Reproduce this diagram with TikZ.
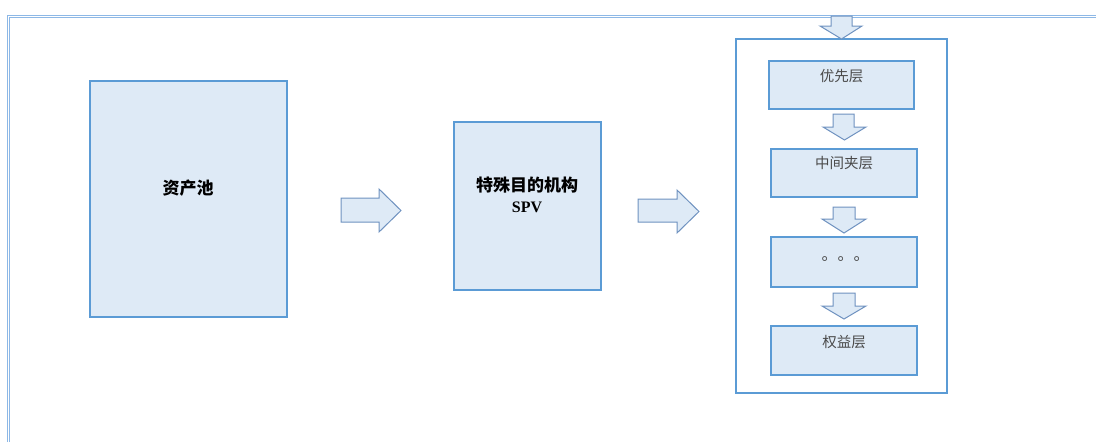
\documentclass[tikz,border=0pt]{standalone}
\usepackage{fontspec}
\setmainfont{Liberation Serif}
\newfontfamily\cjk{Noto Sans CJK SC}
\definecolor{boxline}{HTML}{5B9BD5}
\definecolor{boxfill}{HTML}{DEEAF6}
\definecolor{arrline}{HTML}{6F92C0}
\definecolor{frameline}{HTML}{8DB8E6}
\definecolor{txtgray}{HTML}{4A4A4A}
\tikzset{
  boxnode/.style={draw=boxline, fill=boxfill, line width=2pt, rectangle, inner sep=0pt},
  outerbox/.style={draw=boxline, fill=white, line width=2pt, rectangle, inner sep=0pt},
  blockarrow/.style={draw=arrline, fill=boxfill, line width=1pt, line join=miter},
  bigtext/.style={font=\cjk\bfseries\fontsize{17}{20}\selectfont, text=black, inner sep=0pt},
  smalltext/.style={font=\cjk\fontsize{14.5}{17}\selectfont, text=txtgray, inner sep=0pt},
  framestyle/.style={draw=frameline, line width=1pt}
}
\begin{document}
\begin{tikzpicture}[x=1pt,y=-1pt]
\useasboundingbox (0,0) rectangle (1096,442);
% outer frame (double line)
\draw[framestyle] (7,442) -- (7,15) -- (1096,15);
\draw[framestyle] (9,442) -- (9,17) -- (1096,17);

% left box
\node[boxnode, minimum width=197pt, minimum height=236pt] (pool) at (188.5,199) {};
\node[bigtext] (pooltxt) at (188,188) {资产池};

% SPV box
\node[boxnode, minimum width=147pt, minimum height=168pt] (spv) at (527.5,206) {};
\node[bigtext] (spvtxt) at (527,185) {特殊目的机构};
\node[font=\bfseries\fontsize{16}{18}\selectfont, inner sep=0pt] (spvname) at (527,207.5) {SPV};

% right arrows
\draw[blockarrow] (341,198) -- (379,198) -- (379,189) -- (401,210.5) -- (379,232) -- (379,222) -- (341,222) -- cycle;
\draw[blockarrow] (638,199) -- (677,199) -- (677,190) -- (699,211.5) -- (677,233) -- (677,222) -- (638,222) -- cycle;

% tranche container
\node[outerbox, minimum width=211pt, minimum height=354pt] (tranches) at (841.5,216) {};

% top down arrow
\draw[blockarrow] (831,16) -- (852,16) -- (852,26) -- (862,26) -- (841.5,39) -- (820,26) -- (831,26) -- cycle;

% tranche boxes
\node[boxnode, minimum width=145pt, minimum height=48pt] (senior) at (841.5,85) {};
\node[smalltext] (seniortxt) at (841.5,76) {优先层};
\node[boxnode, minimum width=146pt, minimum height=48pt] (mezz) at (844,173) {};
\node[smalltext] (mezztxt) at (844,163) {中间夹层};
\node[boxnode, minimum width=146pt, minimum height=50pt] (more) at (844,262) {};
\node[smalltext, font=\cjk\fontsize{16}{18}\selectfont] (moretxt) at (845.5,259) {。。。};
\node[boxnode, minimum width=146pt, minimum height=49pt] (equity) at (844,350.5) {};
\node[smalltext] (equitytxt) at (844,342) {权益层};

% down arrows between tranches
\draw[blockarrow] (833,114) -- (854,114) -- (854,127) -- (866,127) -- (844.5,140) -- (823,127) -- (833,127) -- cycle;
\draw[blockarrow] (833,207) -- (855,207) -- (855,219) -- (866,219) -- (844,233) -- (822,219) -- (833,219) -- cycle;
\draw[blockarrow] (833,293) -- (855,293) -- (855,306) -- (866,306) -- (844,319) -- (822,306) -- (833,306) -- cycle;
\end{tikzpicture}
\end{document}
